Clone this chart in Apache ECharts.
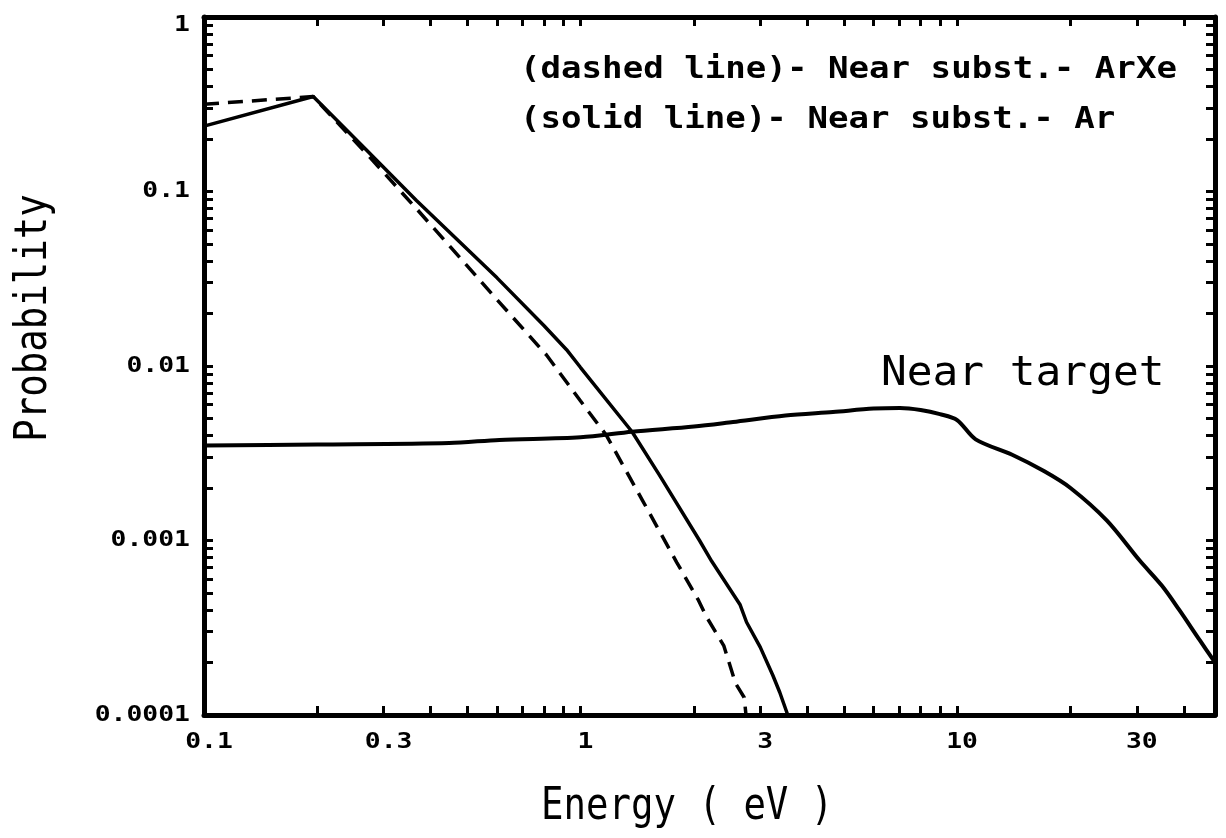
<!DOCTYPE html>
<html>
<head>
<meta charset="utf-8">
<script src="https://cdn.jsdelivr.net/npm/echarts@6/dist/echarts.min.js"></script>
<style>
html,body{margin:0;padding:0;background:#fff;}
#chart{width:1226px;height:838px;}
</style>
</head>
<body>
<div id="chart"></div>
<script>
// ---- data ----
const arXeEnergy = [0.1, 0.195, 0.27, 0.366, 0.5, 0.6, 0.812, 1.0, 1.17, 1.46, 1.8, 2.05, 2.16, 2.4, 2.58, 2.72, 2.75];
const arXeProb   = [0.316, 0.35, 0.165, 0.08, 0.0375, 0.024, 0.01156, 0.0063, 0.00402, 0.0017, 0.00075, 0.00046, 0.000365, 0.00025, 0.000152, 0.000126, 0.0001];

const arEnergy = [0.1, 0.195, 0.27, 0.366, 0.6, 0.8, 0.918, 1.0, 1.37, 1.62, 2.07, 2.23, 2.65, 2.76, 3.0, 3.24, 3.38, 3.55];
const arProb   = [0.237, 0.35, 0.173, 0.089, 0.032, 0.017, 0.0124, 0.0098, 0.0042, 0.00237, 0.001, 0.00076, 0.00043, 0.00034, 0.000245, 0.000169, 0.000135, 0.0001];

const targetEnergy = [0.1, 0.2, 0.448, 0.609, 1.0, 1.37, 2.0, 2.54, 3.5, 4.68, 6.0, 7.05, 8.0, 9.0, 10, 11.2, 14, 17, 20, 25, 30.5, 35, 38.9, 44, 48.4];
const targetProb   = [0.0035, 0.00355, 0.00362, 0.00377, 0.0039, 0.0042, 0.0045, 0.00478, 0.0052, 0.00545, 0.0057, 0.00575, 0.0056, 0.0053, 0.0049, 0.0038, 0.0031, 0.0025, 0.002, 0.0013, 0.00077, 0.00055, 0.0004, 0.00027, 0.0002];

const xLabelValues = [0.1, 0.3, 1, 3, 10, 30];
const xLabelTexts  = ['0.1', '0.3', '1', '3', '10', '30'];
const yLabelValues = [0.0001, 0.001, 0.01, 0.1, 1];
const yLabelTexts  = ['0.0001', '0.001', '0.01', '0.1', '1'];

const xMin = 0.1, xMax = 48.4, yMin = 0.0001, yMax = 1;

const xTickValues = [0.1,0.2,0.3,0.4,0.5,0.6,0.7,0.8,0.9,1,2,3,4,5,6,7,8,9,10,20,30,40];
const yTickValues = [0.0001,0.0002,0.0003,0.0004,0.0005,0.0006,0.0007,0.0008,0.0009,
                     0.001,0.002,0.003,0.004,0.005,0.006,0.007,0.008,0.009,
                     0.01,0.02,0.03,0.04,0.05,0.06,0.07,0.08,0.09,
                     0.1,0.2,0.3,0.4,0.5,0.6,0.7,0.8,0.9,1];

const legendLines = ['(dashed line)- Near subst.- ArXe', '(solid line)- Near subst.- Ar'];
const targetLabel = 'Near target';
const xTitle = 'Energy ( eV )';
const yTitle = 'Probability';

// ---- chart ----
const zip = (a, b) => a.map((v, i) => [v, b[i]]);
const mono = '"DejaVu Sans Mono", "Liberation Mono", monospace';

const axisLineStyle = { color: '#000', width: 5 };
const tickStyle = { color: '#000', width: 3 };
function xAxisDef(pos) {
  return {
    type: 'log', logBase: 10, min: xMin, max: xMax, position: pos,
    axisLine: { show: true, onZero: false, lineStyle: axisLineStyle },
    axisTick: { show: true, inside: true, length: 9, lineStyle: tickStyle, customValues: xTickValues },
    axisLabel: { show: false },
    splitLine: { show: false }, minorTick: { show: false }
  };
}
function yAxisDef(pos) {
  return {
    type: 'log', logBase: 10, min: yMin, max: yMax, position: pos,
    axisLine: { show: true, onZero: false, lineStyle: axisLineStyle },
    axisTick: { show: true, inside: true, length: 9, lineStyle: tickStyle, customValues: yTickValues },
    axisLabel: { show: false },
    splitLine: { show: false }, minorTick: { show: false }
  };
}

const chart = echarts.init(document.getElementById('chart'), null, { renderer: 'canvas' });
chart.setOption({
  backgroundColor: '#fff',
  animation: false,
  grid: { left: 204, right: 11, top: 17, bottom: 123, containLabel: false },
  xAxis: [xAxisDef('bottom'), xAxisDef('top')],
  yAxis: [yAxisDef('left'), yAxisDef('right')],
  series: [
    { type: 'line', name: 'ArXe', data: zip(arXeEnergy, arXeProb),
      symbol: 'none', lineStyle: { color: '#000', width: 3.5, type: [15, 9] }, z: 3 },
    { type: 'line', name: 'Ar', data: zip(arEnergy, arProb),
      symbol: 'none', lineStyle: { color: '#000', width: 3.5 }, z: 3 },
    { type: 'line', name: 'Near target', data: zip(targetEnergy, targetProb),
      symbol: 'none', smooth: 0.3, lineStyle: { color: '#000', width: 4 }, z: 3 }
  ]
});

// tick labels positioned through the axes' own scales
const labelFont = 'bold 22px ' + mono;
const graphics = [];
xLabelValues.forEach((v, i) => {
  const p = chart.convertToPixel({ xAxisIndex: 0, yAxisIndex: 0 }, [v, yMin]);
  graphics.push({ type: 'text', x: p[0] + 5, y: p[1] + 27, scaleX: 1.2,
    style: { text: xLabelTexts[i], font: labelFont, fill: '#000', align: 'center', verticalAlign: 'middle' } });
});
yLabelValues.forEach((v, i) => {
  const p = chart.convertToPixel({ xAxisIndex: 0, yAxisIndex: 0 }, [xMin, v]);
  graphics.push({ type: 'text', x: p[0] - 14, y: Math.max(p[1], 25), scaleX: 1.2,
    style: { text: yLabelTexts[i], font: labelFont, fill: '#000', align: 'right', verticalAlign: 'middle' } });
});
graphics.push(
  { type: 'text', x: 520, y: 70, scaleX: 1.1, style: { text: legendLines[0], font: 'bold 31px ' + mono, fill: '#000', align: 'left', verticalAlign: 'middle' } },
  { type: 'text', x: 520, y: 120, scaleX: 1.1, style: { text: legendLines[1], font: 'bold 31px ' + mono, fill: '#000', align: 'left', verticalAlign: 'middle' } },
  { type: 'text', x: 881, y: 375, scaleX: 1.07, style: { text: targetLabel, font: '40px ' + mono, fill: '#000', align: 'left', verticalAlign: 'middle' } },
  { type: 'text', x: 541, y: 807, scaleX: 0.83, style: { text: xTitle, font: '45px ' + mono, fill: '#000', align: 'left', verticalAlign: 'middle' } },
  { type: 'text', x: 34, y: 318, rotation: Math.PI / 2, scaleX: 0.83,
    style: { text: yTitle, font: '45px ' + mono, fill: '#000', align: 'center', verticalAlign: 'middle' } }
);
chart.setOption({ graphic: graphics });
</script>
</body>
</html>
